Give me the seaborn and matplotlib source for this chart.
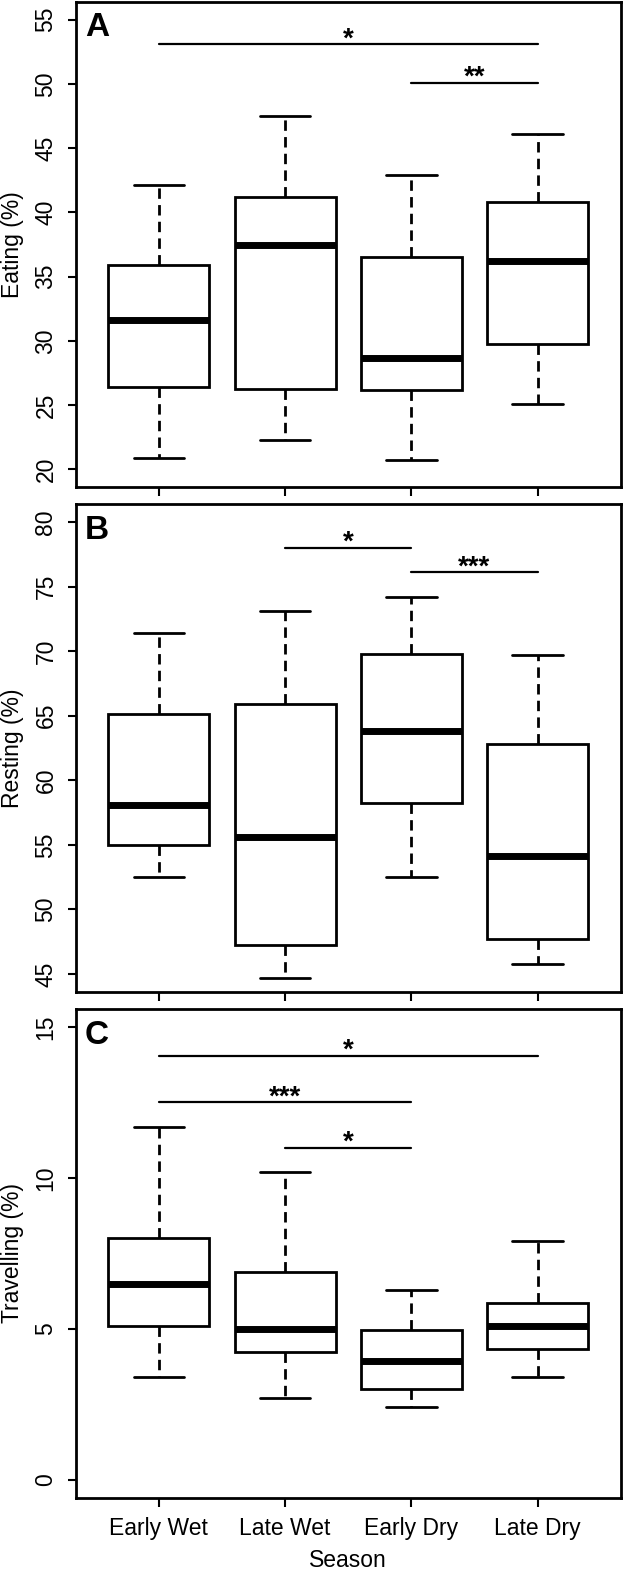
import pandas as pd
import matplotlib
matplotlib.use("Agg")
import matplotlib.pyplot as plt
import seaborn as sns

seasons = ["Early Wet", "Late Wet", "Early Dry", "Late Dry"]

# five-number summaries per season: lower whisker, Q1, median, Q3, upper whisker
eating = [[20.9, 26.4, 31.6, 35.9, 42.1],
          [22.3, 26.3, 37.5, 41.2, 47.5],
          [20.7, 26.2, 28.7, 36.5, 42.9],
          [25.1, 29.8, 36.2, 40.8, 46.1]]
resting = [[52.5, 55.0, 58.1, 65.1, 71.4],
           [44.7, 47.2, 55.6, 65.9, 73.1],
           [52.5, 58.2, 63.8, 69.8, 74.2],
           [45.8, 47.7, 54.1, 62.8, 69.7]]
travelling = [[3.4, 5.1, 6.5, 8.0, 11.7],
              [2.7, 4.25, 5.0, 6.9, 10.2],
              [2.4, 3.0, 3.95, 4.95, 6.3],
              [3.4, 4.35, 5.1, 5.85, 7.9]]

# significance bars: (from season, to season, height, label)
eating_sig = [(0, 3, 53.1, "*"), (2, 3, 50.1, "**")]
resting_sig = [(1, 2, 78.0, "*"), (2, 3, 76.1, "***")]
travelling_sig = [(0, 3, 14.05, "*"), (0, 2, 12.5, "***"), (1, 2, 11.0, "*")]

eating_ticks = [20, 25, 30, 35, 40, 45, 50, 55]
resting_ticks = [45, 50, 55, 60, 65, 70, 75, 80]
travelling_ticks = [0, 5, 10, 15]

sns.set_style("ticks")
plt.rcParams['font.family'] = ['Liberation Sans', 'DejaVu Sans']
plt.rcParams['lines.scale_dashes'] = False
for key in ["text.color", "axes.labelcolor", "xtick.color", "ytick.color", "axes.edgecolor"]:
    plt.rcParams[key] = "black"

fig = plt.figure(figsize=(6.23, 15.71), dpi=100)

panels = [
    ("A", "Eating (%)", eating, eating_sig, eating_ticks, [0.1212, 0.6897, 0.8756, 0.3092]),
    ("B", "Resting (%)", resting, resting_sig, resting_ticks, [0.1212, 0.3686, 0.8756, 0.3106]),
    ("C", "Travelling (%)", travelling, travelling_sig, travelling_ticks, [0.1212, 0.0465, 0.8756, 0.3113]),
]

for i, (letter, ylabel, stats, sigs, ticks, pos) in enumerate(panels):
    ax = fig.add_axes(pos)
    df = pd.DataFrame([(s, v) for s, row in zip(seasons, stats) for v in row],
                      columns=["Season", "value"])
    sns.boxplot(data=df, x="Season", y="value", order=seasons, whis=(0, 100),
                width=0.8, color="white", linecolor="black", linewidth=2,
                showfliers=False, ax=ax,
                medianprops=dict(linewidth=5),
                whiskerprops=dict(linestyle=(0, (7.5, 4.5))))

    lo, hi = ticks[0], ticks[-1]
    ext = (hi - lo) * 0.04
    ax.set_ylim(lo - ext, hi + ext)
    ax.set_xlim(-0.66, 3.66)

    for x1, x2, y, lab in sigs:
        ax.plot([x1, x2], [y, y], color="black", lw=1.6)
        ax.annotate(lab, ((x1 + x2) / 2, y), xytext=(0, -1.5), textcoords="offset points",
                    ha="center", va="baseline", fontsize=20, fontweight="bold")

    ax.text(0.017, 0.978, letter, transform=ax.transAxes, ha="left", va="top",
            fontsize=24, fontweight="bold")

    for sp in ax.spines.values():
        sp.set_linewidth(2)
        sp.set_color("black")

    ax.set_yticks(ticks, [str(t) for t in ticks], rotation=90, va="center")
    ax.tick_params(axis="y", direction="out", length=6, width=1.5, labelsize=16.5, pad=7)
    ax.tick_params(axis="x", direction="out", length=6.5, width=1.5, labelsize=16.5, pad=7)
    ax.set_ylabel(ylabel, fontsize=16.5)
    ax.yaxis.set_label_coords(-0.094, 0.5)
    if i < 2:
        ax.tick_params(axis="x", labelbottom=False)
        ax.set_xlabel("")
    else:
        ax.set_xlabel("Season", fontsize=16.5, labelpad=7)

fig.savefig("out.png", dpi=100)
